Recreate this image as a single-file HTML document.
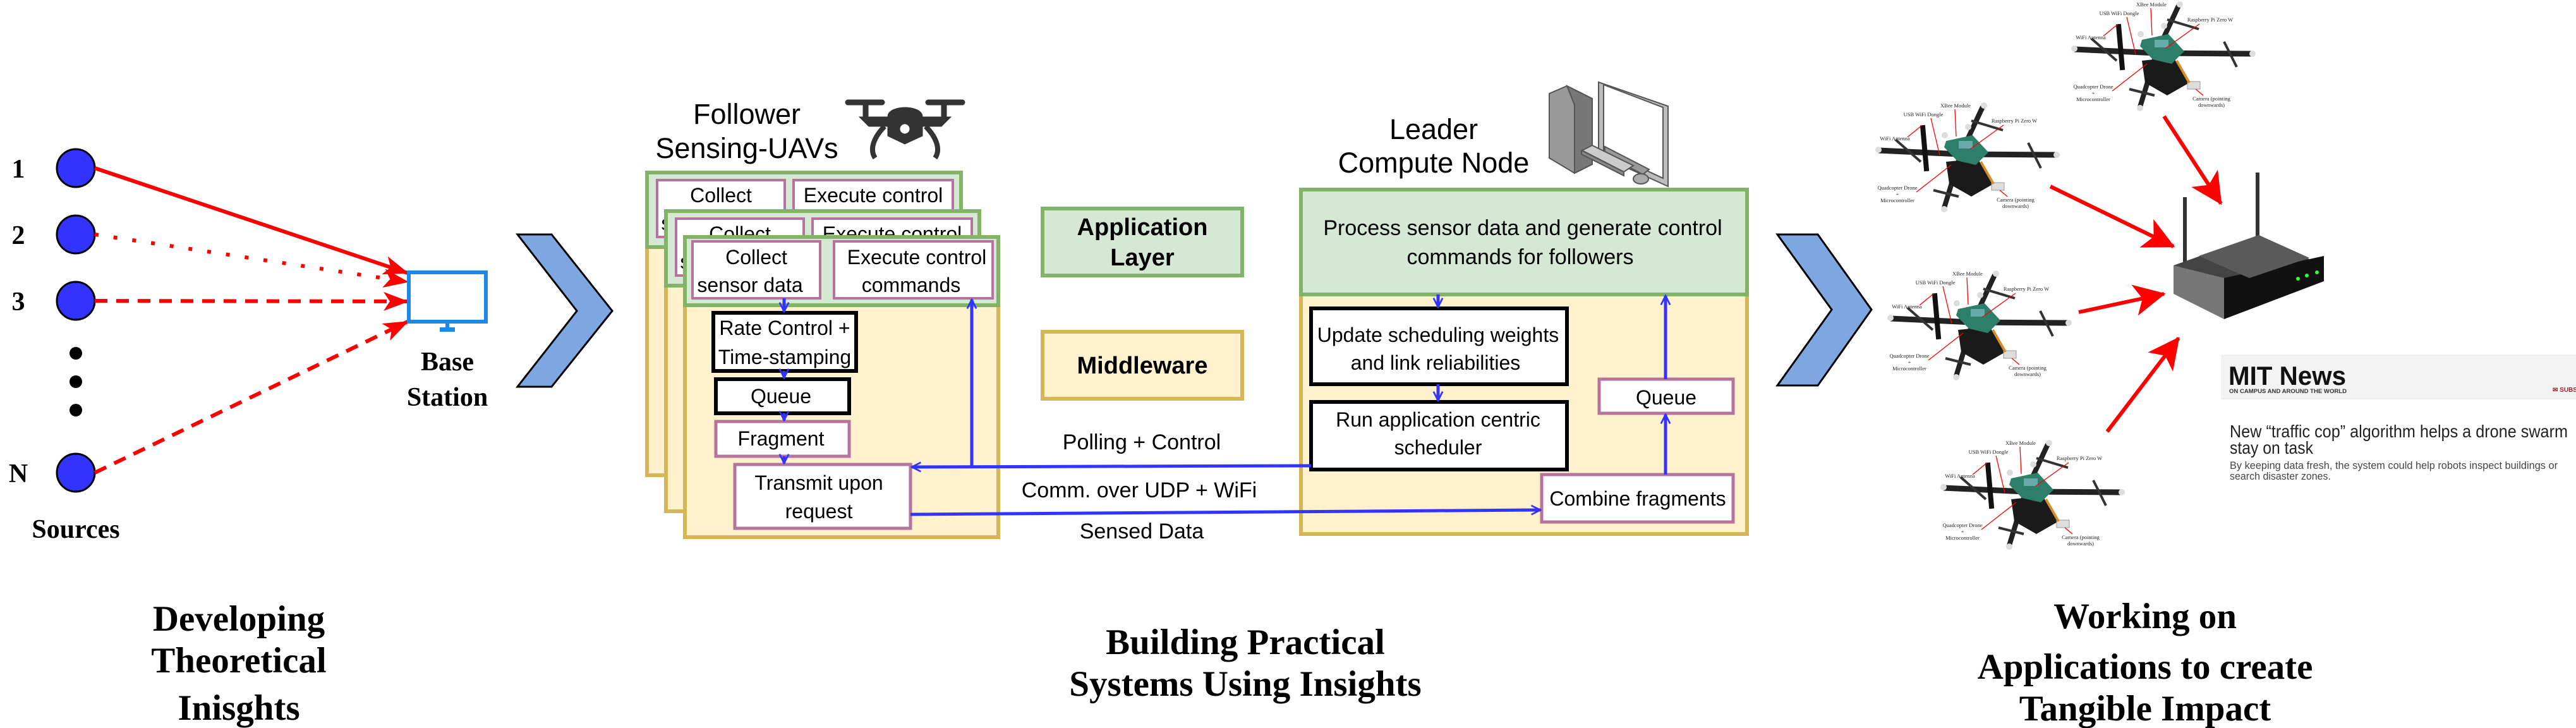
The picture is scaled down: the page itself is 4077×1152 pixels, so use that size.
<!DOCTYPE html>
<html><head><meta charset="utf-8"><style>
html,body{margin:0;padding:0;background:#fff;}
svg{display:block;}
.s{font-family:"Liberation Sans",Arial,sans-serif;fill:#000;}
.t{font-family:"Liberation Serif","Times New Roman",serif;font-weight:bold;fill:#000;}
.dl{font-family:"Liberation Serif",serif;font-size:8.5px;fill:#222;}
</style></head><body>
<svg width="4077" height="1152" viewBox="0 0 4077 1152" xmlns="http://www.w3.org/2000/svg">
<defs>
<marker id="ra" viewBox="0 0 40 30" refX="38" refY="15" markerWidth="40" markerHeight="30" markerUnits="userSpaceOnUse" orient="auto">
<path d="M0,0 L40,15 L0,30 L10,15 Z" fill="#f00"/></marker>
<marker id="ba" viewBox="0 0 20 20" refX="18" refY="10" markerWidth="18" markerHeight="18" markerUnits="userSpaceOnUse" orient="auto">
<path d="M2,2 L18,10 L2,18" fill="none" stroke="#33f" stroke-width="3"/></marker>
<marker id="rb" viewBox="0 0 40 40" refX="38" refY="20" markerWidth="50" markerHeight="50" markerUnits="userSpaceOnUse" orient="auto">
<path d="M0,0 L40,20 L0,40 L10,20 Z" fill="#f00"/></marker>
<g id="dr">
<line x1="133" y1="83" x2="3" y2="77" stroke="#222" stroke-width="9"/>
<line x1="133" y1="83" x2="283" y2="84" stroke="#222" stroke-width="9"/>
<line x1="133" y1="83" x2="168" y2="8" stroke="#222" stroke-width="8"/>
<line x1="133" y1="83" x2="107" y2="168" stroke="#222" stroke-width="8"/>
<line x1="30" y1="60" x2="70" y2="95" stroke="#333" stroke-width="4"/>
<line x1="240" y1="65" x2="260" y2="105" stroke="#333" stroke-width="4"/>
<line x1="150" y1="30" x2="200" y2="45" stroke="#333" stroke-width="4"/>
<line x1="90" y1="140" x2="130" y2="150" stroke="#333" stroke-width="4"/>
<path d="M110,95 L160,90 L185,130 L150,150 L115,130 Z" fill="#1a1a1a"/>
<rect x="72" y="37" width="8" height="73" fill="#111" transform="rotate(-5 76 73)"/>
<path d="M110,62 L152,53 L177,80 L157,100 L127,93 L107,72 Z" fill="#2d7f6a"/>
<rect x="130" y="62" width="22" height="12" fill="#6aa"/>
<rect x="182" y="128" width="20" height="12" fill="#ddd" stroke="#999"/>
<line x1="165" y1="95" x2="185" y2="130" stroke="#d98c2a" stroke-width="4"/>
<circle cx="3" cy="76" r="5" fill="#ddd"/><circle cx="285" cy="84" r="5" fill="#ddd"/>
<circle cx="170" cy="6" r="5" fill="#ddd"/><circle cx="107" cy="170" r="5" fill="#ddd"/>
<circle cx="145" cy="40" r="5" fill="#ddd"/><circle cx="108" cy="53" r="5" fill="#ddd"/>
<g stroke="#f00" stroke-width="1.3">
<line x1="124" y1="12" x2="126" y2="55"/><line x1="86" y1="26" x2="100" y2="85"/>
<line x1="201" y1="37" x2="148" y2="75"/><line x1="49" y1="56" x2="71" y2="38"/>
<line x1="63" y1="143" x2="118" y2="100"/><line x1="207" y1="150" x2="195" y2="140"/>
</g>
</g>
</defs>

<!-- LEFT PART -->
<g class="t" font-size="42" text-anchor="middle">
<text x="29" y="281">1</text><text x="29" y="386">2</text><text x="29" y="491">3</text><text x="29" y="763">N</text>
</g>
<g fill="#3333ff" stroke="#000" stroke-width="3">
<circle cx="120" cy="266" r="30"/><circle cx="120" cy="371" r="30"/><circle cx="120" cy="476" r="30"/><circle cx="120" cy="748" r="30"/>
</g>
<circle cx="120" cy="559" r="10" fill="#000"/><circle cx="120" cy="604" r="10" fill="#000"/><circle cx="120" cy="649" r="10" fill="#000"/>
<g stroke="#f00" stroke-width="6" fill="none">
<line x1="150" y1="266" x2="645" y2="432" marker-end="url(#ra)"/>
<line x1="150" y1="371" x2="645" y2="446" stroke-dasharray="6,24" marker-end="url(#ra)"/>
<line x1="150" y1="476" x2="645" y2="477" stroke-dasharray="20,14" marker-end="url(#ra)"/>
<line x1="150" y1="748" x2="645" y2="509" stroke-dasharray="20,14" marker-end="url(#ra)"/>
</g>
<rect x="647" y="431" width="122" height="78" fill="#fff" stroke="#1e88e5" stroke-width="6"/>
<rect x="705" y="509" width="6" height="10" fill="#1e88e5"/><rect x="696" y="518" width="24" height="7" fill="#1e88e5"/>
<g class="t" font-size="42" text-anchor="middle">
<text x="708" y="586">Base</text><text x="708" y="642">Station</text>
<text x="120" y="851">Sources</text>
</g>
<polygon points="819,371 873,371 969,492 873,612 819,612 913,492" fill="#7ea6e0" stroke="#000" stroke-width="3"/>

<!-- FOLLOWER STACKS -->
<g class="s" font-size="45" text-anchor="middle">
<text x="1182" y="196">Follower</text><text x="1182" y="250">Sensing-UAVs</text>
</g>
<g fill="#333" stroke="#333">
<rect x="1338" y="158" width="62" height="8" rx="4"/><rect x="1465" y="158" width="62" height="8" rx="4"/>
<rect x="1366" y="160" width="8" height="25"/><rect x="1490" y="160" width="8" height="25"/>
<path d="M1360,185 L1505,185 L1490,200 L1375,200 Z"/>
<path d="M1405,185 C1405,165 1460,165 1460,185 L1460,215 L1432,228 L1405,215 Z"/>
<path d="M1400,200 C1385,215 1375,235 1385,250" fill="none" stroke-width="8"/>
<path d="M1465,200 C1480,215 1490,235 1480,250" fill="none" stroke-width="8"/>
<circle cx="1432" cy="204" r="7" fill="#fff" stroke="#fff"/>
</g>
<rect x="1024" y="391" width="497" height="361" fill="#fff2cc" stroke="#d6b656" stroke-width="6"/>
<rect x="1024" y="273" width="497" height="118" fill="#d5e8d4" stroke="#82b366" stroke-width="6"/>
<rect x="1040" y="285" width="202" height="90" fill="#fff" stroke="#b5739d" stroke-width="4"/>
<rect x="1256" y="285" width="252" height="90" fill="#fff" stroke="#b5739d" stroke-width="4"/>
<g class="s" font-size="32" text-anchor="middle"><text x="1141" y="320">Collect</text><text x="1382" y="320">Execute control</text><text x="1130" y="364">sensor data</text></g>
<rect x="1054" y="452" width="496" height="357" fill="#fff2cc" stroke="#d6b656" stroke-width="6"/>
<rect x="1054" y="334" width="496" height="118" fill="#d5e8d4" stroke="#82b366" stroke-width="6"/>
<rect x="1070" y="346" width="202" height="90" fill="#fff" stroke="#b5739d" stroke-width="4"/>
<rect x="1286" y="346" width="252" height="90" fill="#fff" stroke="#b5739d" stroke-width="4"/>
<g class="s" font-size="32" text-anchor="middle"><text x="1171" y="381">Collect</text><text x="1412" y="381">Execute control</text><text x="1160" y="425">sensor data</text></g>
<rect x="1084" y="483" width="496" height="367" fill="#fff2cc" stroke="#d6b656" stroke-width="6"/>
<rect x="1084" y="375" width="496" height="108" fill="#d5e8d4" stroke="#82b366" stroke-width="6"/>
<rect x="1096" y="382" width="202" height="90" fill="#fff" stroke="#b5739d" stroke-width="4"/>
<rect x="1320" y="382" width="251" height="90" fill="#fff" stroke="#b5739d" stroke-width="4"/>
<g class="s" font-size="32" text-anchor="middle">
<text x="1197" y="418">Collect</text><text x="1187" y="462">sensor data</text>
<text x="1451" y="418">Execute control</text><text x="1442" y="462">commands</text>
</g>
<rect x="1129" y="495" width="226" height="92" fill="#fff" stroke="#000" stroke-width="6"/>
<rect x="1133" y="600" width="211" height="54" fill="#fff" stroke="#000" stroke-width="6"/>
<rect x="1133" y="667" width="211" height="55" fill="#fff" stroke="#b5739d" stroke-width="5"/>
<rect x="1163" y="735" width="278" height="101" fill="#fff" stroke="#b5739d" stroke-width="5"/>
<g class="s" font-size="32" text-anchor="middle">
<text x="1242" y="530">Rate Control +</text><text x="1242" y="576">Time-stamping</text>
<text x="1236" y="638">Queue</text><text x="1236" y="705">Fragment</text>
<text x="1296" y="775">Transmit upon</text><text x="1296" y="820">request</text>
</g>

<!-- legend -->
<rect x="1650" y="330" width="316" height="106" fill="#d5e8d4" stroke="#82b366" stroke-width="6"/>
<rect x="1650" y="525" width="316" height="106" fill="#fff2cc" stroke="#d6b656" stroke-width="6"/>
<g class="s" font-size="38" font-weight="bold" text-anchor="middle">
<text x="1808" y="372">Application</text><text x="1808" y="420">Layer</text>
<text x="1808" y="591">Middleware</text>
</g>
<g class="s" font-size="34" text-anchor="middle">
<text x="1807" y="711">Polling + Control</text>
<text x="1803" y="787">Comm. over UDP + WiFi</text>
<text x="1807" y="852">Sensed Data</text>
</g>

<!-- LEADER -->
<g class="s" font-size="45" text-anchor="middle">
<text x="2269" y="220">Leader</text><text x="2269" y="273">Compute Node</text>
</g>
<g stroke="#555" stroke-width="2">
<path d="M2452,148 L2480,136 L2520,156 L2520,260 L2492,274 L2452,250 Z" fill="#999"/>
<path d="M2480,136 L2520,156 L2520,260 L2492,274 L2492,166 Z" fill="#777"/>
<path d="M2530,130 L2640,168 L2640,295 L2530,245 Z" fill="#bbb"/>
<path d="M2538,134 L2632,170 L2632,282 L2538,238 Z" fill="#fff"/>
<path d="M2540,232 L2610,268 L2600,276 L2540,244 Z" fill="#999"/>
<path d="M2504,238 L2520,230 L2585,262 L2570,272 Z" fill="#ccc"/>
<path d="M2503,238 L2570,272 L2570,278 L2503,244 Z" fill="#888"/>
<ellipse cx="2597" cy="283" rx="12" ry="8" fill="#aaa"/>
</g>
<rect x="2059" y="466" width="706" height="379" fill="#fff2cc" stroke="#d6b656" stroke-width="6"/>
<rect x="2059" y="300" width="706" height="166" fill="#d5e8d4" stroke="#82b366" stroke-width="6"/>
<g class="s" font-size="34" text-anchor="middle">
<text x="2410" y="372">Process sensor data and generate control</text>
<text x="2406" y="418">commands for followers</text>
</g>
<rect x="2075" y="488" width="405" height="120" fill="#fff" stroke="#000" stroke-width="6"/>
<rect x="2075" y="636" width="405" height="107" fill="#fff" stroke="#000" stroke-width="6"/>
<rect x="2531" y="600" width="212" height="54" fill="#fff" stroke="#b5739d" stroke-width="5"/>
<rect x="2440" y="751" width="303" height="75" fill="#fff" stroke="#b5739d" stroke-width="5"/>
<g class="s" font-size="32" text-anchor="middle">
<text x="2276" y="541">Update scheduling weights</text><text x="2272" y="585">and link reliabilities</text>
<text x="2276" y="675">Run application centric</text><text x="2276" y="719">scheduler</text>
<text x="2637" y="640">Queue</text><text x="2592" y="800">Combine fragments</text>
</g>

<!-- blue connectors (drawn on top) -->
<g stroke="#33f" stroke-width="5" fill="none">
<line x1="1241" y1="472" x2="1241" y2="493" marker-end="url(#ba)"/>
<line x1="1241" y1="587" x2="1241" y2="598" marker-end="url(#ba)"/>
<line x1="1241" y1="654" x2="1241" y2="665" marker-end="url(#ba)"/>
<line x1="1241" y1="722" x2="1241" y2="733" marker-end="url(#ba)"/>
<line x1="1538" y1="738" x2="1538" y2="474" marker-end="url(#ba)"/>
<line x1="2075" y1="737" x2="1443" y2="739" marker-end="url(#ba)"/>
<line x1="1441" y1="814" x2="2438" y2="807" marker-end="url(#ba)"/>
<line x1="2276" y1="466" x2="2276" y2="486" marker-end="url(#ba)"/>
<line x1="2276" y1="608" x2="2276" y2="634" marker-end="url(#ba)"/>
<line x1="2636" y1="751" x2="2636" y2="656" marker-end="url(#ba)"/>
<line x1="2636" y1="600" x2="2636" y2="468" marker-end="url(#ba)"/>
</g>
<polygon points="2813,371 2877,371 2962,490 2877,610 2813,610 2899,490" fill="#7ea6e0" stroke="#000" stroke-width="3"/>

<!-- APPLICATIONS -->
<use href="#dr" x="3280" y="1"/><use href="#dr" x="2970" y="161"/><use href="#dr" x="2989" y="427"/><use href="#dr" x="3073" y="695"/>
<g class="dl" text-anchor="middle" transform="translate(3280,1)"><text x="125" y="9">XBee Module</text><text x="74" y="23">USB WiFi Dongle</text><text x="218" y="33">Raspberry Pi Zero W</text><text x="29" y="61">WiFi Antenna</text><text x="33" y="139">Quadcopter Drone</text><text x="33" y="149">+</text><text x="33" y="159">Microcontroller</text><text x="220" y="158">Camera (pointing</text><text x="220" y="168">downwards)</text></g>
<g class="dl" text-anchor="middle" transform="translate(2970,161)"><text x="125" y="9">XBee Module</text><text x="74" y="23">USB WiFi Dongle</text><text x="218" y="33">Raspberry Pi Zero W</text><text x="29" y="61">WiFi Antenna</text><text x="33" y="139">Quadcopter Drone</text><text x="33" y="149">+</text><text x="33" y="159">Microcontroller</text><text x="220" y="158">Camera (pointing</text><text x="220" y="168">downwards)</text></g>
<g class="dl" text-anchor="middle" transform="translate(2989,427)"><text x="125" y="9">XBee Module</text><text x="74" y="23">USB WiFi Dongle</text><text x="218" y="33">Raspberry Pi Zero W</text><text x="29" y="61">WiFi Antenna</text><text x="33" y="139">Quadcopter Drone</text><text x="33" y="149">+</text><text x="33" y="159">Microcontroller</text><text x="220" y="158">Camera (pointing</text><text x="220" y="168">downwards)</text></g>
<g class="dl" text-anchor="middle" transform="translate(3073,695)"><text x="125" y="9">XBee Module</text><text x="74" y="23">USB WiFi Dongle</text><text x="218" y="33">Raspberry Pi Zero W</text><text x="29" y="61">WiFi Antenna</text><text x="33" y="139">Quadcopter Drone</text><text x="33" y="149">+</text><text x="33" y="159">Microcontroller</text><text x="220" y="158">Camera (pointing</text><text x="220" y="168">downwards)</text></g>
<g stroke="#f00" stroke-width="6">
<line x1="3425" y1="184" x2="3515" y2="322" marker-end="url(#rb)"/>
<line x1="3245" y1="295" x2="3440" y2="390" marker-end="url(#rb)"/>
<line x1="3290" y1="494" x2="3425" y2="465" marker-end="url(#rb)"/>
<line x1="3335" y1="683" x2="3448" y2="535" marker-end="url(#rb)"/>
</g>
<rect x="3455" y="312" width="6" height="110" fill="#333"/>
<rect x="3570" y="273" width="6" height="110" fill="#333"/>
<path d="M3440,420 L3575,372 L3655,410 L3655,435 L3520,495 L3440,460 Z" fill="#444"/>
<path d="M3520,440 L3678,405 L3678,445 L3520,505 Z" fill="#111"/>
<path d="M3440,420 L3520,440 L3520,505 L3440,465 Z" fill="#777"/>
<path d="M3480,405 L3575,372 L3655,408 L3560,440 Z" fill="#5a5a5a"/>
<circle cx="3637" cy="441" r="3" fill="#3f3"/><circle cx="3651" cy="436" r="3" fill="#3f3"/><circle cx="3667" cy="431" r="3" fill="#3f3"/>
<rect x="3515" y="561" width="562" height="70" fill="#f3f3f3"/>
<line x1="3515" y1="631" x2="4077" y2="631" stroke="#ddd" stroke-width="1"/>
<text x="3527" y="609" class="s" font-size="42" font-weight="bold" textLength="186" lengthAdjust="spacingAndGlyphs" style="fill:#111">MIT News</text>
<text x="3528" y="622" class="s" font-size="9" font-weight="bold" textLength="186" lengthAdjust="spacingAndGlyphs" style="fill:#333">ON CAMPUS AND AROUND THE WORLD</text>
<text x="4040" y="620" class="s" font-size="10" font-weight="bold" style="fill:#a31f34">✉ SUBS</text>
<text x="3529" y="692" class="s" font-size="28" textLength="535" lengthAdjust="spacingAndGlyphs" style="fill:#222">New “traffic cop” algorithm helps a drone swarm</text>
<text x="3529" y="718" class="s" font-size="28" textLength="132" lengthAdjust="spacingAndGlyphs" style="fill:#222">stay on task</text>
<text x="3529" y="742" class="s" font-size="17" textLength="519" lengthAdjust="spacingAndGlyphs" style="fill:#444">By keeping data fresh, the system could help robots inspect buildings or</text>
<text x="3529" y="759" class="s" font-size="17" textLength="160" lengthAdjust="spacingAndGlyphs" style="fill:#444">search disaster zones.</text>

<g class="t" font-size="57" text-anchor="middle">
<text x="378" y="998">Developing</text><text x="378" y="1064">Theoretical</text><text x="378" y="1139">Inisghts</text>
<text x="1971" y="1035">Building Practical</text><text x="1971" y="1101">Systems Using Insights</text>
<text x="3395" y="994">Working on</text><text x="3395" y="1074">Applications to create</text><text x="3395" y="1140">Tangible Impact</text>
</g>
</svg>
</body></html>
